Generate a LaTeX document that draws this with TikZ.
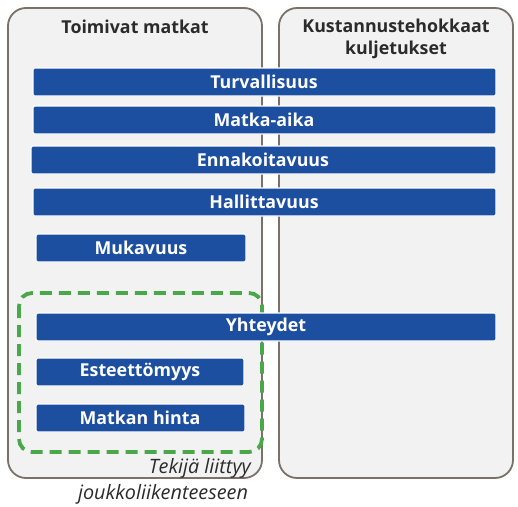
\documentclass[tikz,border=0pt]{standalone}
\usepackage{fontspec}
\setmainfont{Open Sans}
\definecolor{panelfill}{HTML}{F2F2F2}
\definecolor{panelline}{HTML}{7A7169}
\definecolor{barblue}{HTML}{1D4FA0}
\definecolor{dashgreen}{HTML}{4AA84A}
\definecolor{titletext}{HTML}{2B2B2B}
\begin{document}
\begin{tikzpicture}[x=1pt,y=-1pt,
  panel/.style={draw=panelline,line width=1.8pt,fill=panelfill,rounded corners=18pt},
  bar/.style={fill=barblue,draw=white,line width=1.2pt,rounded corners=1.5pt},
  bartext/.style={text=white,font=\fontsize{17.8}{20}\selectfont\bfseries,inner sep=0pt},
  titlefont/.style={text=titletext,font=\fontsize{17.8}{22}\selectfont\bfseries,inner sep=0pt,align=center},
  notefont/.style={text=titletext,font=\fontsize{19.8}{22}\selectfont\itshape,inner sep=0pt}]
\useasboundingbox (0,0) rectangle (518,506);
\fill[white] (0,0) rectangle (518,506);
% panels
\draw[panel] (8,8) rectangle (262,478);
\draw[panel] (279,8) rectangle (513,478);
\node[titlefont] (t1) at (135,27) {Toimivat matkat};
\node[titlefont] (t2) at (396,39) {Kustannustehokkaat\\kuljetukset};
% dashed group
\draw[dashgreen,line width=3.8pt,dash pattern=on 12pt off 7pt,rounded corners=13pt] (19,293) rectangle (262,452);
% bars
\draw[bar] (33,68) rectangle (496,96);
\node[bartext] (b1) at (264,82) {Turvallisuus};
\draw[bar] (33,106) rectangle (496,134);
\node[bartext] (b2) at (264,120) {Matka-aika};
\draw[bar] (31,146) rectangle (496,174);
\node[bartext] (b3) at (263,160) {Ennakoitavuus};
\draw[bar] (33,188) rectangle (496,216);
\node[bartext] (b4) at (264,202) {Hallittavuus};
\draw[bar] (36,234) rectangle (246,262);
\node[bartext] (b5) at (141,248) {Mukavuus};
\draw[bar] (36,313) rectangle (496,341);
\node[bartext] (b6) at (266,327) {Yhteydet};
\draw[bar] (36,358) rectangle (244,386);
\node[bartext] (b7) at (140,372) {Esteettömyys};
\draw[bar] (36,404) rectangle (245,432);
\node[bartext] (b8) at (140,418) {Matkan hinta};
% note
\node[notefont,anchor=east] (n1) at (251,468) {Tekijä liittyy};
\node[notefont] (n2) at (163,494) {joukkoliikenteeseen};
\end{tikzpicture}
\end{document}
